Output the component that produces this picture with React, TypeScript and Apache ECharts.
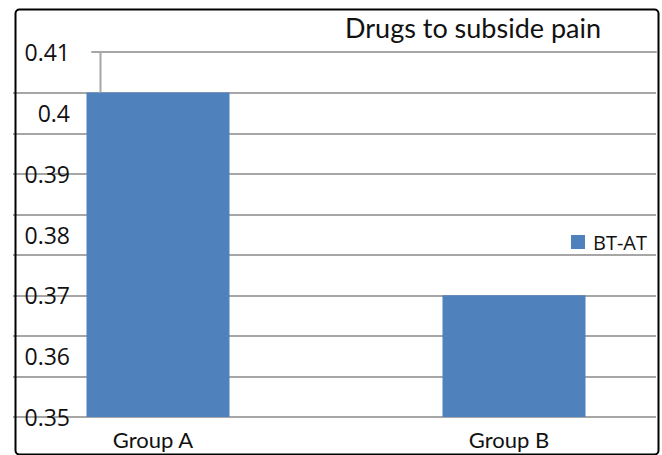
import { useEffect, useRef } from "react";
import * as echarts from "echarts";

const categories = ["Group A", "Group B"];
const btAtValues = [0.40333, 0.37];
// Upper whisker on Group A: from the bar top up to the high value
const errorLow = [0.40333];
const errorHigh = [0.41];
const yMin = 0.35;
const yMax = 0.41;
const yStep = 0.01;
// Horizontal rules below the top line, evenly spaced
const ruleSteps = 8;
// Category positions on the numeric x scale (plot spans a bit beyond both groups)
const xMin = -0.4073;
const xMax = 1.3989;

const BLUE = "#4f81bd";
const RULE = "#a6a6a6";
const BAR_W = 143;

export default function App() {
  const ref = useRef<HTMLDivElement>(null);

  useEffect(() => {
    if (!ref.current) return;
    const chart = echarts.init(ref.current, undefined, { renderer: "svg" });
    chart.setOption({
      animation: false,
      backgroundColor: "#fff",
      title: {
        text: "Drugs to subside pain",
        left: 340,
        top: 9,
        textStyle: { fontFamily: "Lato", fontSize: 27, fontWeight: "normal", color: "#111" },
      },
      legend: {
        data: ["BT-AT"],
        left: 566,
        top: 227,
        icon: "rect",
        itemWidth: 14,
        itemHeight: 14,
        textStyle: { fontFamily: "Open Sans", fontSize: 20, color: "#111", padding: [0, 0, 0, 3] },
      },
      grid: [
        { left: 13, right: 6, top: 52, bottom: 38 },
        { left: 13, right: 6, top: 93, bottom: 38 },
        { left: 92, right: 6, top: 52, bottom: 38 },
      ],
      xAxis: [
        {
          gridIndex: 0,
          type: "value",
          min: xMin,
          max: xMax,
          axisLine: { show: false },
          axisTick: { show: false },
          splitLine: { show: false },
          axisLabel: {
            customValues: categories.map((_c, i) => i),
            formatter: (v: number) => categories[Math.round(v)] ?? "",
            margin: 11,
            fontFamily: "Lato",
            fontSize: 22,
            color: "#111",
            padding: [0, 10, 0, 0],
          },
        },
        { gridIndex: 1, type: "value", min: 0, max: 1, show: false },
        {
          gridIndex: 2,
          type: "value",
          min: 0,
          max: 1,
          position: "top",
          axisLine: { show: true, onZero: false, lineStyle: { color: RULE, width: 2 } },
          axisTick: { show: false },
          axisLabel: { show: false },
          splitLine: { show: false },
        },
      ],
      yAxis: [
        {
          gridIndex: 0,
          type: "value",
          min: yMin,
          max: yMax,
          interval: yStep,
          axisLine: { show: false },
          axisTick: { show: false },
          splitLine: { show: false },
          axisLabel: {
            margin: -57,
            align: "right",
            fontFamily: "Open Sans",
            fontSize: 23,
            color: "#111",
            formatter: (v: number) => String(+v.toFixed(2)),
          },
        },
        {
          gridIndex: 1,
          type: "value",
          min: 0,
          max: ruleSteps,
          interval: 1,
          axisLine: { show: false },
          axisTick: { show: false },
          axisLabel: { show: false },
          splitLine: { show: true, lineStyle: { color: RULE, width: 2 } },
        },
        { gridIndex: 2, type: "value", min: 0, max: 1, show: false },
      ],
      series: [
        {
          name: "BT-AT",
          type: "bar",
          xAxisIndex: 0,
          yAxisIndex: 0,
          data: btAtValues.map((v, i) => [i, v]),
          barWidth: BAR_W,
          itemStyle: { color: BLUE },
          z: 3,
        },
        {
          name: "whisker",
          type: "custom",
          xAxisIndex: 0,
          yAxisIndex: 0,
          data: errorLow.map((lo, i) => [i, lo, errorHigh[i]]),
          encode: { x: 0, y: [1, 2] },
          z: 4,
          renderItem: (_params: any, api: any) => {
            const cat = api.value(0);
            const lo = api.coord([cat, api.value(1)]);
            const hi = api.coord([cat, api.value(2)]);
            const x = lo[0] - BAR_W / 2 + 14;
            return {
              type: "line",
              shape: { x1: x, y1: lo[1], x2: x, y2: hi[1] },
              style: { stroke: RULE, lineWidth: 2 },
            };
          },
        },
      ],
      graphic: [
        {
          type: "rect",
          left: 13,
          top: 7,
          shape: { width: 643, height: 445, r: 4 },
          style: { fill: "none", stroke: "#000", lineWidth: 2 },
          silent: true,
          z: 100,
        },
      ],
    });
    return () => chart.dispose();
  }, []);

  return (
    <div
      ref={ref}
      style={{ position: "fixed", left: 0, top: 0, width: 662, height: 455 }}
    />
  );
}
